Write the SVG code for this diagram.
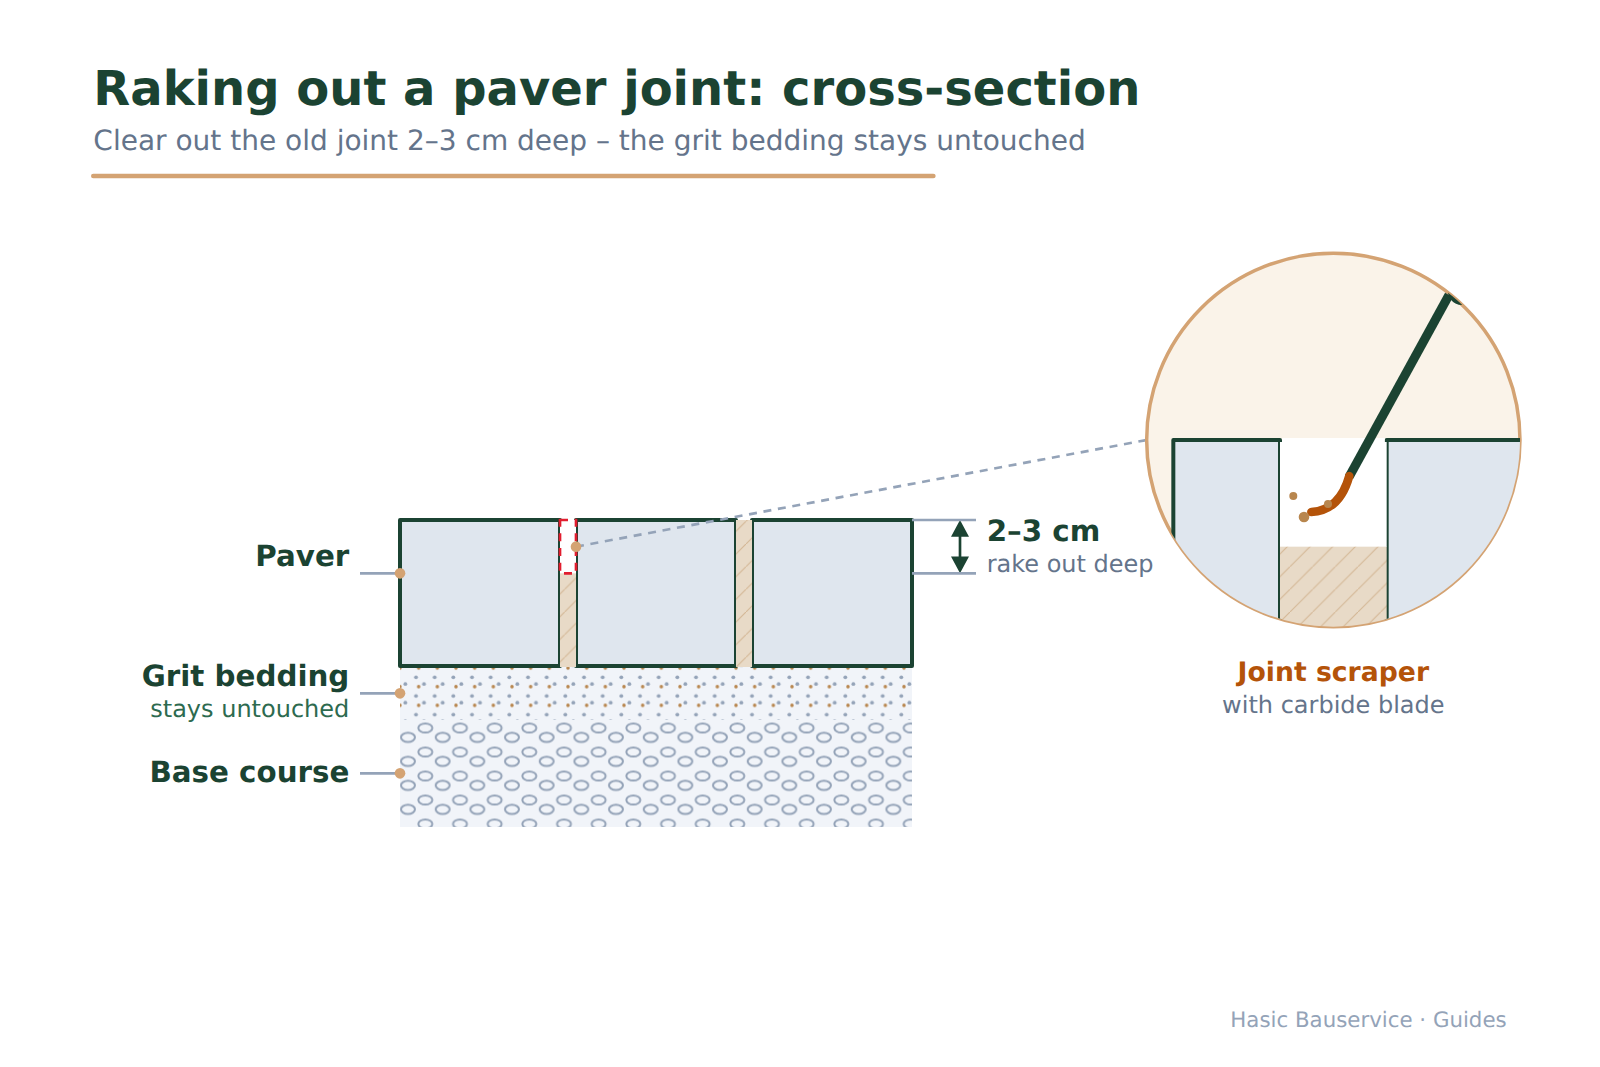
<svg xmlns="http://www.w3.org/2000/svg" width="1600" height="1067" viewBox="0 0 1600 1067">
  <style>
    text { font-family: "DejaVu Sans", sans-serif; text-rendering: geometricPrecision; }
    .head { font-weight: 700; fill: #1b4332; }
    .note { fill: #64748b; }
    .paver { fill: #dfe6ee; stroke: #1b4332; stroke-width: 4; stroke-linejoin: round; }
    .leader { stroke: #94a3b8; stroke-width: 2.67; fill: none; }
    .dot { fill: #d4a373; }
    .crumb { fill: #b8864e; }
  </style>
  <defs>
    <pattern id="hatch" patternUnits="userSpaceOnUse" x="1131.33" y="0" width="22.667" height="22.667">
      <rect width="22.667" height="22.667" fill="#e8dac7"/>
      <path d="M-2,24.667 L24.667,-2" stroke="#d4b896" stroke-width="1.1"/>
    </pattern>
    <pattern id="grit" patternUnits="userSpaceOnUse" x="402" y="675" width="18.667" height="18.667">
      <rect width="18.667" height="18.667" fill="#f1f4f9"/>
      <circle cx="14" cy="2.33" r="1.9" fill="#94a3b8"/>
      <circle cx="3.33" cy="9" r="1.9" fill="#94a3b8"/>
      <circle cx="16.67" cy="11.67" r="1.75" fill="#b8864e"/>
    </pattern>
    <pattern id="gravel" patternUnits="userSpaceOnUse" x="417" y="721.5" width="34.667" height="24">
      <rect width="34.667" height="24" fill="#f1f4f9"/>
      <ellipse cx="8.33" cy="6.5" rx="7" ry="4.6" fill="none" stroke="#94a3b8" stroke-width="2"/>
      <ellipse cx="25.67" cy="15.83" rx="7" ry="4.6" fill="none" stroke="#94a3b8" stroke-width="2"/>
    </pattern>
    <clipPath id="lens"><circle cx="1333.33" cy="440" r="186.67"/></clipPath>
  </defs>

  <g id="heading">
    <text class="head" x="93.33" y="104.5" font-size="48">Raking out a paver joint: cross-section</text>
    <text class="note" x="93.33" y="150" font-size="28">Clear out the old joint 2–3 cm deep – the grit bedding stays untouched</text>
    <line x1="93.33" y1="176" x2="933.33" y2="176" stroke="#d4a373" stroke-width="4.67" stroke-linecap="round"/>
  </g>

  <g id="base-course"><rect x="400" y="720" width="512" height="107" fill="url(#gravel)"/></g>
  <g id="grit-bedding"><rect x="400" y="666" width="512" height="54" fill="url(#grit)"/></g>

  <g id="pavers">
    <rect class="paver" x="400" y="520" width="160" height="146"/>
    <rect class="paver" x="576" y="520" width="160" height="146"/>
    <rect class="paver" x="752" y="520" width="160" height="146"/>
  </g>
  <g id="joints">
    <rect x="560" y="520" width="16" height="147" fill="url(#hatch)"/>
    <rect x="736" y="520" width="16" height="147" fill="url(#hatch)"/>
  </g>
  <g id="raked-zone">
    <rect x="560" y="520" width="16" height="53.33" fill="#fff" stroke="#e11d2e" stroke-width="2.67" stroke-dasharray="8 6.67"/>
  </g>

  <g id="connectors">
    <line class="leader" x1="360" y1="573.33" x2="400" y2="573.33"/>
    <line class="leader" x1="360" y1="693.33" x2="400" y2="693.33"/>
    <line class="leader" x1="360" y1="773.33" x2="400" y2="773.33"/>
    <line class="leader" x1="576" y1="546.67" x2="1146.67" y2="440" stroke-dasharray="8 6.67"/>
    <circle class="dot" cx="400" cy="573.33" r="5.33"/>
    <circle class="dot" cx="400" cy="693.33" r="5.33"/>
    <circle class="dot" cx="400" cy="773.33" r="5.33"/>
    <circle class="dot" cx="576" cy="546.67" r="5.33"/>
  </g>

  <g id="depth-mark">
    <line x1="960" y1="530" x2="960" y2="563" stroke="#1b4332" stroke-width="2.67"/>
    <path d="M960,520 L969,536.7 L951,536.7 Z M960,573.33 L969,556.6 L951,556.6 Z" fill="#1b4332"/>
    <line class="leader" x1="912" y1="520" x2="976" y2="520"/>
    <line class="leader" x1="912" y1="573.33" x2="976" y2="573.33"/>
    <text class="head" x="986.67" y="541" font-size="29.33">2–3 cm</text>
    <text class="note" x="986.67" y="571.5" font-size="24">rake out deep</text>
  </g>

  <g id="labels">
    <text class="head" x="349.33" y="566.3" font-size="29.33" text-anchor="end">Paver</text>
    <text class="head" x="349.33" y="686.3" font-size="29.33" text-anchor="end">Grit bedding</text>
    <text x="349.33" y="717" font-size="24" text-anchor="end" fill="#2d6a4f">stays untouched</text>
    <text class="head" x="349.33" y="782" font-size="29.33" text-anchor="end">Base course</text>
  </g>

  <g id="detail-lens">
    <circle cx="1333.33" cy="440" r="186.67" fill="#faf3e9" stroke="#d4a373" stroke-width="3.5"/>
    <g clip-path="url(#lens)">
      <rect class="paver" x="1173.33" y="440" width="106.67" height="220"/>
      <rect class="paver" x="1386.67" y="440" width="160" height="220"/>
      <rect x="1280" y="442" width="106.67" height="105" fill="#fff"/>
      <rect x="1282" y="438" width="102.7" height="4" fill="#fff"/>
      <rect x="1280" y="546.67" width="106.67" height="100" fill="url(#hatch)"/>
      <line x1="1349" y1="477" x2="1449" y2="295" stroke="#1b4332" stroke-width="9"/>
      <line x1="1462" y1="291" x2="1472" y2="272" stroke="#1b4332" stroke-width="28" stroke-linecap="round"/>
      <path d="M1349.3,476 C1344,495 1333,511 1311.3,512" fill="none" stroke="#b45309" stroke-width="8.5" stroke-linecap="round"/>
      <circle class="crumb" cx="1293.3" cy="496" r="4"/>
      <circle class="crumb" cx="1304" cy="517" r="5.33"/>
      <circle class="crumb" cx="1328" cy="504" r="4"/>
    </g>
    <text x="1333.33" y="681" font-size="26.67" font-weight="700" text-anchor="middle" fill="#b45309">Joint scraper</text>
    <text class="note" x="1333.33" y="713" font-size="24" text-anchor="middle">with carbide blade</text>
  </g>

  <text x="1506.67" y="1027" font-size="21.33" text-anchor="end" fill="#94a3b8">Hasic Bauservice · Guides</text>
</svg>
